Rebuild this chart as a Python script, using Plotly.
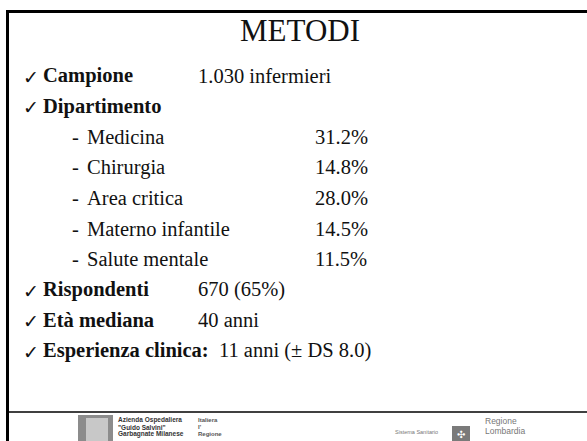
import plotly.graph_objects as go

# ---- data ----
title_text = "METODI"
campione_n = "1.030"
dept_names = ["Medicina", "Chirurgia", "Area critica", "Materno infantile", "Salute mentale"]
dept_pct = [31.2, 14.8, 28.0, 14.5, 11.5]
rispondenti_n = 670
rispondenti_pct = 65
eta_mediana = 40
esperienza_anni = 11
esperienza_ds = 8.0

W, H = 587, 441
SERIF = "Liberation Serif, Times New Roman, serif"
FS = 20.5
BLACK = "#111111"

fig = go.Figure()
fig.add_trace(go.Scatter(x=[0, W], y=[0, H], mode="markers",
                         marker=dict(opacity=0), hoverinfo="skip", showlegend=False))

ann = []

def txt(x, y, s, size=FS, xanchor="left", color=BLACK, family=SERIF):
    ann.append(dict(x=x, y=y, text=s, showarrow=False, xanchor=xanchor, yanchor="middle",
                    font=dict(family=family, size=size, color=color), xref="x", yref="y"))

def row_y(i):
    return 82 + 30.6 * i - 6.5

CHECK_X, LABEL_X, VALUE_X, DASH_X, NAME_X, PCT_X = 21, 41, 196, 70, 85, 313

def check(i):
    txt(CHECK_X, row_y(i) + 1, "✓", size=19, family="DejaVu Sans")

# title
txt(300, 30, title_text, size=31, xanchor="center")

# Campione
check(0)
txt(LABEL_X, row_y(0), "<b>Campione</b>")
txt(VALUE_X, row_y(0), f"{campione_n} infermieri")

# Dipartimento
check(1)
txt(LABEL_X, row_y(1), "<b>Dipartimento</b>")
for k, (name, pct) in enumerate(zip(dept_names, dept_pct)):
    i = 2 + k
    txt(DASH_X, row_y(i), "-")
    txt(NAME_X, row_y(i), name)
    txt(PCT_X, row_y(i), f"{pct:.1f}%")

# Rispondenti
check(7)
txt(LABEL_X, row_y(7), "<b>Rispondenti</b>")
txt(VALUE_X, row_y(7), f"{rispondenti_n} ({rispondenti_pct}%)")

# Età mediana
check(8)
txt(LABEL_X, row_y(8), "<b>Età mediana</b>")
txt(VALUE_X, row_y(8), f"{eta_mediana} anni")

# Esperienza clinica
check(9)
txt(LABEL_X, row_y(9), f"<b>Esperienza clinica:</b>  {esperienza_anni} anni (± DS {esperienza_ds:.1f})")

# footer logos (approximate)
SANS = "Liberation Sans, Arial, sans-serif"
txt(116, 420, "<b>Azienda Ospedaliera</b>", size=6.5, color="#333333", family=SANS)
txt(116, 427, "<b>\"Guido Salvini\"</b>", size=6.5, color="#333333", family=SANS)
txt(116, 434, "<b>Garbagnate Milanese</b>", size=6.5, color="#333333", family=SANS)
txt(196, 420, "<b>Italiera</b>", size=6, color="#555555", family=SANS)
txt(196, 427, "<b>I'</b>", size=6, color="#555555", family=SANS)
txt(196, 434, "<b>Regione</b>", size=6, color="#555555", family=SANS)
txt(393, 432, "Sistema Sanitario", size=5.5, color="#777777", family=SANS)
txt(483, 421, "Regione", size=8.5, color="#777777", family=SANS)
txt(483, 431, "Lombardia", size=8.5, color="#777777", family=SANS)
txt(461, 434, "✣", size=10, color="#ffffff", xanchor="center", family="DejaVu Sans")

shapes = [
    dict(type="line", x0=6, x1=W, y0=11.5, y1=11.5, line=dict(color="black", width=3)),
    dict(type="line", x0=7.5, x1=7.5, y0=10, y1=H, line=dict(color="black", width=3)),
    dict(type="line", x0=9, x1=W, y0=412, y1=412, line=dict(color="black", width=1.5)),
    dict(type="rect", x0=78, x1=113, y0=415, y1=441, line=dict(width=0), fillcolor="#8c8c8c", layer="below"),
    dict(type="rect", x0=86, x1=108, y0=418, y1=441, line=dict(width=0), fillcolor="#c8c8c8", layer="below"),
    dict(type="rect", x0=452, x1=470, y0=426, y1=444, line=dict(width=0), fillcolor="#7a7a7a", layer="below"),
]

fig.update_layout(
    width=W, height=H, margin=dict(l=0, r=0, t=0, b=0),
    paper_bgcolor="white", plot_bgcolor="white",
    xaxis=dict(range=[0, W], visible=False, fixedrange=True),
    yaxis=dict(range=[H, 0], visible=False, fixedrange=True),
    annotations=ann, shapes=shapes, showlegend=False,
)
fig.write_html("out.html", config={"displayModeBar": False},
               post_script="document.body.style.margin='0px';document.body.style.overflow='hidden';")
